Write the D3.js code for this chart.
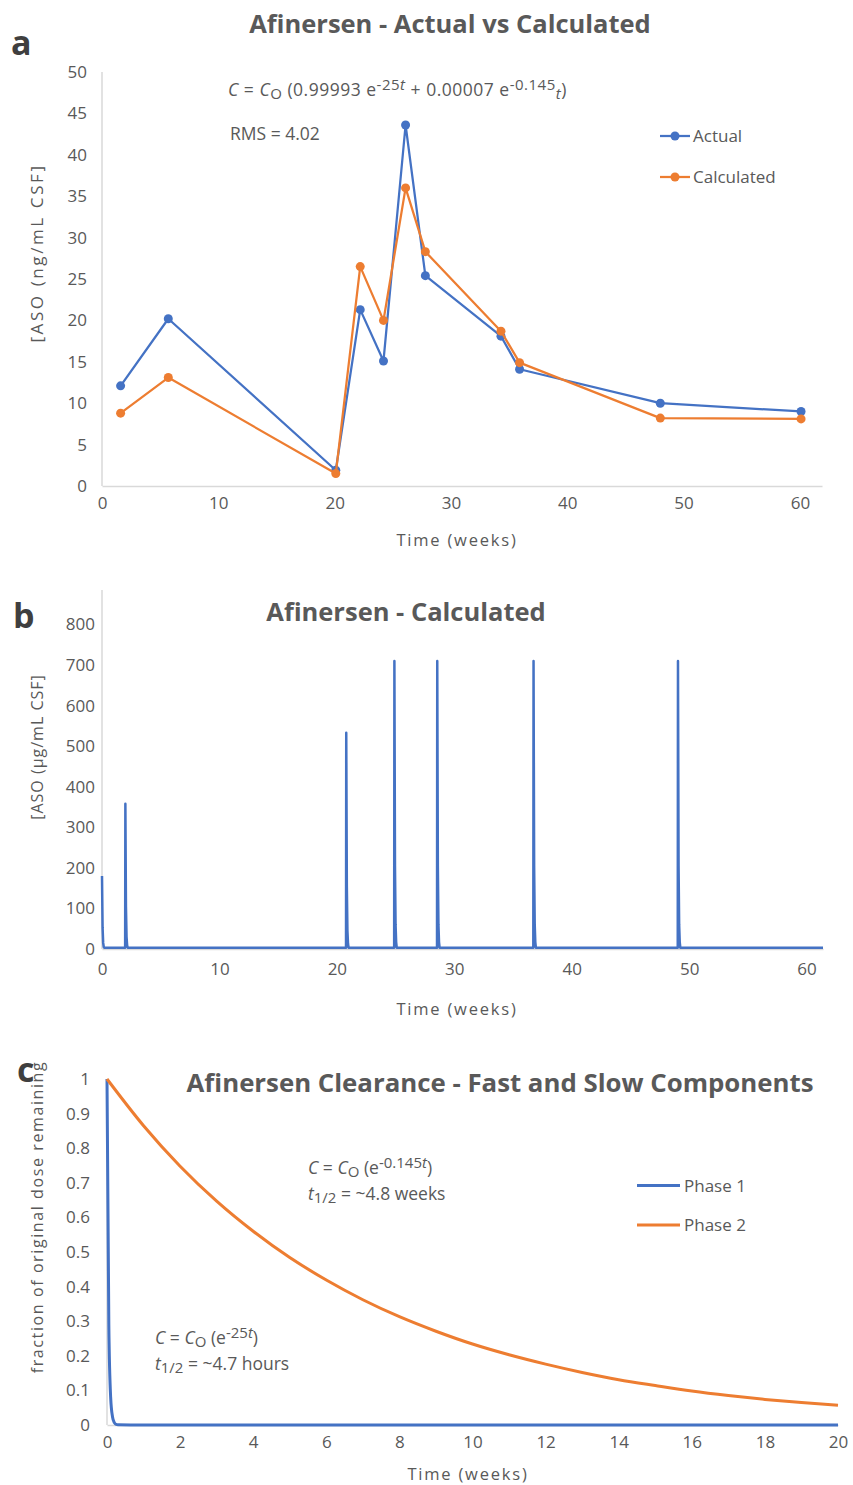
<!DOCTYPE html>
<html>
<head>
<meta charset="utf-8">
<script src="https://cdn.jsdelivr.net/npm/d3@7"></script>
<style>
  body { margin: 0; background: #fff; }
  text { font-family: "Open Sans", sans-serif; fill: #595959; }
</style>
</head>
<body>
<svg id="chart" width="853" height="1485"></svg>
<script>
// ---- panel a : measured vs calculated
var aWeeks  = [1.6, 5.7, 20.1, 22.2, 24.2, 26.1, 27.8, 34.3, 35.9, 48.0, 60.1]
var aActual = [12.1, 20.2, 1.9, 21.3, 15.1, 43.6, 25.4, 18.1, 14.1, 10.0, 9.0]
var aCalc   = [8.8, 13.1, 1.5, 26.5, 20.0, 36.0, 28.3, 18.7, 14.9, 8.2, 8.1]
var aXTicks = [0, 10, 20, 30, 40, 50, 60]
var aYTicks = [0, 5, 10, 15, 20, 25, 30, 35, 40, 45, 50]

// ---- panel b : calculated time course (spikes at each dose)
var bWeeks = [0, 0.05, 0.1, 0.15, 0.2,
  1.97, 1.99, 2.04, 2.09, 2.14, 2.19,
  20.78, 20.8, 20.85, 20.9, 20.95, 21.0,
  24.88, 24.9, 24.95, 25.0, 25.05, 25.1,
  28.53, 28.55, 28.6, 28.65, 28.7, 28.75,
  36.73, 36.75, 36.8, 36.85, 36.9, 36.95,
  49.03, 49.05, 49.1, 49.15, 49.2, 49.25,
  61.4]
var bConc = [180, 52, 15, 5, 3,
  3, 358, 104, 30, 9, 3,
  3, 533, 155, 45, 13, 3,
  3, 710, 206, 60, 17, 3,
  3, 710, 206, 60, 17, 3,
  3, 710, 206, 60, 17, 3,
  3, 710, 206, 60, 17, 3,
  3]
var bXTicks = [0, 10, 20, 30, 40, 50, 60]
var bYTicks = [0, 100, 200, 300, 400, 500, 600, 700, 800]

// ---- panel c : fast and slow clearance components
var cWeeks1  = [0, 0.05, 0.1, 0.15, 0.2, 0.25, 0.3, 1, 20]
var cPhase1  = [1, 0.29, 0.08, 0.024, 0.007, 0.002, 0.001, 0, 0]
var cWeeks2  = [0, 1, 2, 3, 4, 5, 6, 7, 8, 9, 10, 11, 12, 13, 14, 15, 16, 17, 18, 19, 20]
var cPhase2  = [1, 0.865, 0.748, 0.647, 0.56, 0.484, 0.419, 0.362, 0.313, 0.271, 0.234,
                0.203, 0.176, 0.152, 0.131, 0.114, 0.098, 0.085, 0.074, 0.065, 0.057]
var cXTicks = [0, 2, 4, 6, 8, 10, 12, 14, 16, 18, 20]
var cYTicks = [0, 0.1, 0.2, 0.3, 0.4, 0.5, 0.6, 0.7, 0.8, 0.9, 1]

var blue = "#4472C4", orange = "#ED7D31", axisGrey = "#D9D9D9"
var svg = d3.select("#chart")

// text with italic / sub / sup pieces
var richText = function(g, x, y, size, parts){
  var t = g.append("text").attr("x", x).attr("y", y).style("font-size", size + "px")
  var off = 0
  parts.forEach(function(p){
    var target = p.sup ? -6 : (p.sub ? 3 : 0)
    var s = t.append("tspan").text(p.s).attr("dy", target - off)
    off = target
    if(p.i) s.style("font-style", "italic")
    if(p.sup || p.sub) s.style("font-size", (size - 2.5) + "px")
  })
  return t
}

var drawAxes = function(x, y, xTicks, yTicks, xTop, xPad, yPad){
  var g = svg.append("g")
  g.append("g")
      .attr("transform", "translate(0," + y.range()[0] + ")")
      .call(d3.axisBottom(x).tickValues(xTicks).tickSize(0).tickPadding(xPad))
  var ya = g.append("g")
      .attr("transform", "translate(" + x.range()[0] + ",0)")
      .call(d3.axisLeft(y).tickValues(yTicks).tickSize(0).tickPadding(yPad).tickFormat(d3.format("~g")))
  ya.select(".domain").attr("d", "M0," + y.range()[0] + "V" + xTop)
  g.selectAll(".domain").attr("stroke", axisGrey).attr("stroke-width", 1.5)
  g.selectAll(".tick text").style("font-size", "17px").attr("fill", "#595959")
  return g
}

var title = function(x, y, s, size){
  svg.append("text").attr("x", x).attr("y", y).attr("text-anchor", "middle")
    .style("font-size", size + "px").style("font-weight", "bold").text(s)
}
var letter = function(x, y, s){
  svg.append("text").attr("x", x).attr("y", y)
    .style("font-size", "34px").style("font-weight", "bold").style("fill", "#3F3F3F").text(s)
}
var axisTitle = function(x, y, s, rotate, spacing, size){
  svg.append("text")
    .attr("transform", "translate(" + x + "," + y + ")" + (rotate ? " rotate(-90)" : ""))
    .attr("text-anchor", "middle")
    .style("font-size", (size || 16) + "px").style("letter-spacing", spacing + "px").text(s)
}

// ================= panel a
var xA = d3.scaleLinear().domain([0, 61.9]).range([102, 822])
var yA = d3.scaleLinear().domain([0, 50]).range([486, 72])
drawAxes(xA, yA, aXTicks, aYTicks, 72, 11, 15)

var lineA = d3.line().x(function(d){ return xA(d[0]) }).y(function(d){ return yA(d[1]) })
var aSeries = [
  {name: "Actual", color: blue, pts: d3.zip(aWeeks, aActual)},
  {name: "Calculated", color: orange, pts: d3.zip(aWeeks, aCalc)}
]
var sA = svg.append("g").selectAll("g").data(aSeries).enter().append("g")
sA.append("path")
    .attr("d", function(d){ return lineA(d.pts) })
    .attr("fill", "none")
    .attr("stroke", function(d){ return d.color })
    .attr("stroke-width", 2.25)
    .attr("stroke-linejoin", "round")
sA.selectAll("circle").data(function(d){ return d.pts.map(function(p){ return {p: p, c: d.color} }) })
  .enter().append("circle")
    .attr("cx", function(d){ return xA(d.p[0]) })
    .attr("cy", function(d){ return yA(d.p[1]) })
    .attr("r", 4.5)
    .attr("fill", function(d){ return d.c })

// legend a
var legA = svg.append("g").selectAll("g").data(aSeries).enter().append("g")
    .attr("transform", function(d, i){ return "translate(660," + (136 + i * 41) + ")" })
legA.append("line").attr("x1", 0).attr("x2", 30)
    .attr("stroke", function(d){ return d.color }).attr("stroke-width", 2.25)
legA.append("circle").attr("cx", 15).attr("r", 4.5).attr("fill", function(d){ return d.color })
legA.append("text").attr("x", 33).attr("y", 6).style("font-size", "17px")
    .text(function(d){ return d.name })

title(450, 33, "Afinersen - Actual vs Calculated", 25.5)
letter(11, 55, "a")
richText(svg, 228, 96, 17.5, [
  {s: "C", i: 1}, {s: " = "}, {s: "C", i: 1}, {s: "O", sub: 1}, {s: " (0.99993 e"},
  {s: "-25", sup: 1}, {s: "t", sup: 1, i: 1}, {s: " + 0.00007 e"},
  {s: "-0.145", sup: 1}, {s: "t", sub: 1, i: 1}, {s: ")"}
]).style("letter-spacing", "0.5px")
svg.append("text").attr("x", 230).attr("y", 140).style("font-size", "17.5px").text("RMS = 4.02")
axisTitle(43, 253, "[ASO (ng/mL CSF]", true, 2.6, 17)
axisTitle(457, 546, "Time (weeks)", false, 1.8, 16.5)

// ================= panel b
var xB = d3.scaleLinear().domain([0, 61.4]).range([102, 823])
var yB = d3.scaleLinear().domain([0, 800]).range([949, 624.5])
drawAxes(xB, yB, bXTicks, bYTicks, 590, 14, 7)

var lineB = d3.line().x(function(d){ return xB(d[0]) }).y(function(d){ return yB(d[1]) })
svg.append("path")
    .attr("d", lineB(d3.zip(bWeeks, bConc)))
    .attr("fill", "none")
    .attr("stroke", blue)
    .attr("stroke-width", 2.5)
    .attr("stroke-linejoin", "round")

title(406, 621, "Afinersen - Calculated", 25.5)
letter(13, 628, "b")
axisTitle(43, 747, "[ASO (\u00b5g/mL CSF]", true, 1, 16)
axisTitle(457, 1015, "Time (weeks)", false, 1.8, 16.5)

// ================= panel c
var xC = d3.scaleLinear().domain([0, 20]).range([107, 838])
var yC = d3.scaleLinear().domain([0, 1]).range([1425, 1079])
drawAxes(xC, yC, cXTicks, cYTicks, 1079, 11, 17)

var lineC = d3.line().curve(d3.curveMonotoneX)
    .x(function(d){ return xC(d[0]) }).y(function(d){ return yC(d[1]) })
var cSeries = [
  {name: "Phase 1", color: blue, pts: d3.zip(cWeeks1, cPhase1)},
  {name: "Phase 2", color: orange, pts: d3.zip(cWeeks2, cPhase2)}
]
svg.append("g").selectAll("path").data(cSeries).enter().append("path")
    .attr("d", function(d){ return lineC(d.pts) })
    .attr("fill", "none")
    .attr("stroke", function(d){ return d.color })
    .attr("stroke-width", 3)

var legC = svg.append("g").selectAll("g").data(cSeries).enter().append("g")
    .attr("transform", function(d, i){ return "translate(637," + (1185.5 + i * 39.5) + ")" })
legC.append("line").attr("x1", 0).attr("x2", 43)
    .attr("stroke", function(d){ return d.color }).attr("stroke-width", 3)
legC.append("text").attr("x", 47).attr("y", 6).style("font-size", "17px")
    .text(function(d){ return d.name })

title(500, 1092, "Afinersen Clearance - Fast and Slow Components", 25.8)
letter(17, 1082, "c")
richText(svg, 308, 1174, 17.5, [
  {s: "C", i: 1}, {s: " = "}, {s: "C", i: 1}, {s: "O", sub: 1}, {s: " (e"},
  {s: "-0.145", sup: 1}, {s: "t", sup: 1, i: 1}, {s: ")"}
])
richText(svg, 308, 1200, 17.5, [
  {s: "t", i: 1}, {s: "1/2", sub: 1}, {s: " = ~4.8 weeks"}
])
richText(svg, 155, 1344, 17.5, [
  {s: "C", i: 1}, {s: " = "}, {s: "C", i: 1}, {s: "O", sub: 1}, {s: " (e"},
  {s: "-25", sup: 1}, {s: "t", sup: 1, i: 1}, {s: ")"}
])
richText(svg, 155, 1370, 17.5, [
  {s: "t", i: 1}, {s: "1/2", sub: 1}, {s: " = ~4.7 hours"}
])
axisTitle(43, 1217, "fraction of original dose remaining", true, 1.6, 16)
axisTitle(468, 1480, "Time (weeks)", false, 1.8, 16.5)
</script>
</body>
</html>
